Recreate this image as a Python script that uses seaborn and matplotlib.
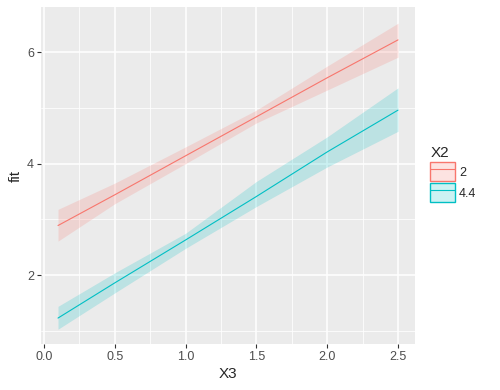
import matplotlib
matplotlib.use("Agg")
import matplotlib.pyplot as plt
import seaborn as sns
import pandas as pd
from matplotlib.patches import Patch
from matplotlib.lines import Line2D
from matplotlib.ticker import MultipleLocator

x3 = [0.1, 0.5, 1.0, 1.5, 2.0, 2.5]
fit_2 = [2.89, 3.44, 4.14, 4.84, 5.54, 6.22]
lwr_2 = [2.61, 3.28, 4.00, 4.73, 5.32, 5.91]
upr_2 = [3.18, 3.65, 4.30, 4.96, 5.75, 6.52]
fit_44 = [1.23, 1.86, 2.63, 3.41, 4.21, 4.96]
lwr_44 = [1.03, 1.68, 2.48, 3.23, 3.94, 4.58]
upr_44 = [1.44, 2.04, 2.75, 3.68, 4.48, 5.36]
groups = ["2", "4.4"]
colors = ["#F8766D", "#00BFC4"]

df = pd.DataFrame({
    "X3": x3 * 2,
    "fit": fit_2 + fit_44,
    "lwr": lwr_2 + lwr_44,
    "upr": upr_2 + upr_44,
    "X2": ["2"] * len(x3) + ["4.4"] * len(x3),
})

sns.set_theme(style="darkgrid", rc={
    "axes.facecolor": "#EBEBEB",
    "grid.color": "white",
    "axes.edgecolor": "#EBEBEB",
})
plt.rcParams["font.family"] = ["Liberation Sans", "DejaVu Sans"]

fig = plt.figure(figsize=(5, 3.9), dpi=100)
ax = fig.add_axes([0.082, 0.118, 0.748, 0.864])

for g, c in zip(groups, colors):
    d = df[df["X2"] == g]
    ax.fill_between(d["X3"], d["lwr"], d["upr"], color=c, alpha=0.2, linewidth=0)
sns.lineplot(data=df, x="X3", y="fit", hue="X2", palette=colors,
             linewidth=0.8, ax=ax, legend=False)

ax.set_xlim(-0.02, 2.62)
ax.set_ylim(0.765, 6.81)
ax.xaxis.set_major_locator(MultipleLocator(0.5))
ax.xaxis.set_minor_locator(MultipleLocator(0.25))
ax.yaxis.set_major_locator(MultipleLocator(2))
ax.yaxis.set_minor_locator(MultipleLocator(1))
ax.set_xticklabels([f"{v:.1f}" for v in ax.get_xticks()])
ax.grid(which="major", color="white", linewidth=1.1)
ax.grid(which="minor", color="white", linewidth=0.55)
ax.tick_params(which="major", length=3, width=0.8, color="#333333",
               labelcolor="#4D4D4D", labelsize=9, pad=2, bottom=True, left=True)
ax.tick_params(which="minor", length=0)
for s in ax.spines.values():
    s.set_visible(False)
ax.set_xlabel("X3", fontsize=11, labelpad=3)
ax.set_ylabel("fit", fontsize=11, labelpad=3)

handles = [(Patch(facecolor=c, alpha=0.2, edgecolor="none"),
            Patch(facecolor="none", edgecolor=c, linewidth=1),
            Line2D([], [], color=c, linewidth=0.8)) for c in colors]
leg = fig.legend(handles, groups, title="X2", loc="upper left",
                 bbox_to_anchor=(0.838, 0.655), frameon=False,
                 fontsize=9, title_fontsize=11, handlelength=2.0,
                 handleheight=1.9, labelspacing=0.2, handletextpad=0.3,
                 alignment="left")

fig.savefig("out.png", dpi=100)
